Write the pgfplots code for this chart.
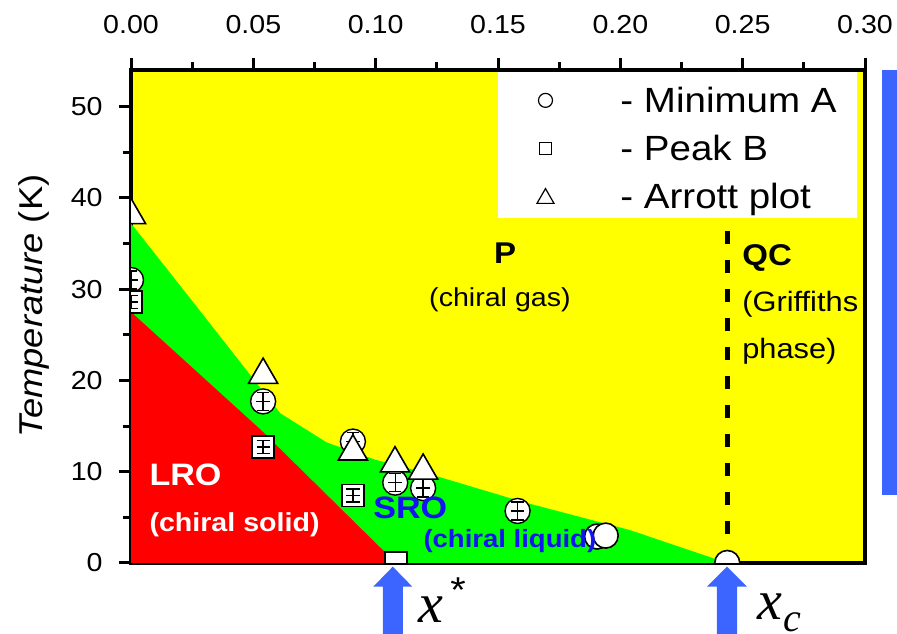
\documentclass[border=0pt]{standalone}
\usepackage{pgfplots}
\pgfplotsset{compat=1.18}
\usepackage{fontspec}
\setmainfont[FakeStretch=1.1]{Liberation Sans}
\newfontfamily\serifit[FakeStretch=1.0]{Liberation Serif Italic}
\definecolor{pyellow}{RGB}{255,255,0}
\definecolor{pgreen}{RGB}{0,255,0}
\definecolor{pred}{RGB}{255,0,0}
\definecolor{arrowblue}{RGB}{60,100,255}
\definecolor{txtblue}{RGB}{20,20,240}

% markers with error bars drawn inside
\pgfdeclareplotmark{circbar}{%
  \pgfpathcircle{\pgfpointorigin}{\pgfplotmarksize}%
  \pgfusepathqfillstroke
  \pgfpathmoveto{\pgfpoint{-0.5\pgfplotmarksize}{0.72\pgfplotmarksize}}%
  \pgfpathlineto{\pgfpoint{0.5\pgfplotmarksize}{0.72\pgfplotmarksize}}%
  \pgfpathmoveto{\pgfpoint{-0.5\pgfplotmarksize}{-0.72\pgfplotmarksize}}%
  \pgfpathlineto{\pgfpoint{0.5\pgfplotmarksize}{-0.72\pgfplotmarksize}}%
  \pgfpathmoveto{\pgfpoint{0pt}{0.72\pgfplotmarksize}}%
  \pgfpathlineto{\pgfpoint{0pt}{-0.72\pgfplotmarksize}}%
  \pgfpathmoveto{\pgfpoint{-0.55\pgfplotmarksize}{0pt}}%
  \pgfpathlineto{\pgfpoint{0.55\pgfplotmarksize}{0pt}}%
  \pgfusepathqstroke
}
\pgfdeclareplotmark{sqbar}{%
  \pgfpathrectangle{\pgfpoint{-\pgfplotmarksize}{-\pgfplotmarksize}}{\pgfpoint{2\pgfplotmarksize}{2\pgfplotmarksize}}%
  \pgfusepathqfillstroke
  \pgfpathmoveto{\pgfpoint{-0.6\pgfplotmarksize}{0.6\pgfplotmarksize}}%
  \pgfpathlineto{\pgfpoint{0.6\pgfplotmarksize}{0.6\pgfplotmarksize}}%
  \pgfpathmoveto{\pgfpoint{-0.6\pgfplotmarksize}{-0.6\pgfplotmarksize}}%
  \pgfpathlineto{\pgfpoint{0.6\pgfplotmarksize}{-0.6\pgfplotmarksize}}%
  \pgfpathmoveto{\pgfpoint{0pt}{0.6\pgfplotmarksize}}%
  \pgfpathlineto{\pgfpoint{0pt}{-0.6\pgfplotmarksize}}%
  \pgfpathmoveto{\pgfpoint{-0.6\pgfplotmarksize}{0pt}}%
  \pgfpathlineto{\pgfpoint{0.6\pgfplotmarksize}{0pt}}%
  \pgfusepathqstroke
}

\pgfplotstableread{
x y
0.0    31.0
0.054  17.7
0.0907 13.3
0.108  8.8
0.1194 8.2
0.158  5.7
}\minAbar
\pgfplotstableread{
x y
0.1905 2.9
0.194  3.0
0.2437 0.0
}\minA
\pgfplotstableread{
x y
0.0    28.6
0.054  12.7
0.0907 7.4
}\peakBbar
\pgfplotstableread{
x y
0.1083 0.0
}\peakB
\pgfplotstableread{
x y
0.0    38.1
0.054  20.6
0.0907 12.2
0.1079 10.9
0.1194 10.1
}\arrott

\begin{document}
\begin{tikzpicture}
\begin{axis}[
  name=ax,
  scale only axis, width=367pt, height=246.5pt,
  xmin=0, xmax=0.30, ymin=0, ymax=54,
  axis background/.style={fill=pyellow},
  axis line style={line width=1.8pt},
  tick align=outside,
  xtick pos=right, xticklabel pos=right,
  ytick pos=left,
  xtick={0,0.05,0.1,0.15,0.2,0.25,0.3},
  xticklabels={0.00,0.05,0.10,0.15,0.20,0.25,0.30},
  ytick={0,10,20,30,40,50},
  yticklabels={0,10,20,30,40,50},
  minor x tick num=1, minor y tick num=1,
  major tick length=6pt, minor tick length=4pt,
  every tick/.style={black, line width=1.5pt},
  xticklabel style={font=\fontsize{13}{13}\selectfont, yshift=8.5pt},
  yticklabel style={font=\fontsize{13}{13}\selectfont, inner xsep=2pt, xshift=-6pt},
  clip mode=individual, clip marker paths=true,
  legend style={at={(rel axis cs:0.989,0.996)}, anchor=north east, draw=none, fill=white,
    font=\fontsize{17.5}{20}\selectfont, inner xsep=10pt, inner ysep=0.5pt, row sep=0pt,
    nodes={inner xsep=0pt, inner ysep=3.5pt, text height=16pt, text depth=1pt}},
  legend cell align=left,
]
% regions
\addplot[fill=pgreen, draw=none, forget plot] coordinates {(0,0) (0,37.2) (0.03,27) (0.061,16.4) (0.08,13.2) (0.1,11.3) (0.12,9.9) (0.16,6.7) (0.204,3.6) (0.2437,0)} -- cycle;
\addplot[fill=pred, draw=none, forget plot] coordinates {(0,0) (0,27.5) (0.053,14.6) (0.1083,0)} -- cycle;
% dashed boundary
\addplot[black, line width=2.5pt, dash pattern=on 6.5pt off 8pt, forget plot] coordinates {(0.2437,0) (0.2437,54)};
% markers
\addplot[only marks, mark=*, mark size=6.25pt, mark options={fill=white, draw=black, line width=0.8pt}, forget plot] table[x=x, y=y] {\minA};
\addplot[only marks, mark=circbar, mark size=6.25pt, mark options={fill=white, draw=black, line width=0.7pt}, forget plot] table[x=x, y=y] {\minAbar};
\addplot[only marks, mark=square*, mark size=5.5pt, mark options={fill=white, draw=black, line width=0.8pt}, forget plot] table[x=x, y=y] {\peakB};
\addplot[only marks, mark=sqbar, mark size=5.5pt, mark options={fill=white, draw=black, line width=0.7pt}, forget plot] table[x=x, y=y] {\peakBbar};
\addplot[only marks, mark=triangle*, mark size=8.4pt, mark options={fill=white, draw=black, line width=0.8pt}, forget plot] table[x=x, y=y] {\arrott};
% legend
\addlegendimage{legend image code/.code={\path[draw=none, fill=none] (0pt,-10pt) rectangle (51pt,10pt); \draw[black, line width=0.6pt, fill=white] (13.5pt,-1.5pt) circle (3.5pt);}}
\addlegendentry{- Minimum A}
\addlegendimage{legend image code/.code={\path[draw=none, fill=none] (0pt,-10pt) rectangle (51pt,10pt); \draw[black, line width=0.6pt, fill=white] (10.5pt,-4.5pt) rectangle (16.5pt,1.5pt);}}
\addlegendentry{- Peak B}
\addlegendimage{legend image code/.code={\path[draw=none, fill=none] (0pt,-10pt) rectangle (51pt,10pt); \draw[black, line width=0.6pt, fill=white] (9.25pt,-5pt) -- (17.75pt,-5pt) -- (13.5pt,2.4pt) -- cycle;}}
\addlegendentry{- Arrott plot}
% labels
\node[anchor=base, font=\bfseries\fontsize{15}{15}\selectfont] at (axis cs:0.1529,32.8) {P};
\node[anchor=base, font=\fontsize{13}{13}\selectfont] at (axis cs:0.1508,28.1) {(chiral gas)};
\node[anchor=base west, inner sep=0pt, font=\bfseries\fontsize{15}{15}\selectfont] at (axis cs:0.2497,32.6) {QC};
\node[anchor=base west, inner sep=0pt, font=\fontsize{14}{14}\selectfont] at (axis cs:0.2497,27.5) {(Griffiths};
\node[anchor=base west, inner sep=0pt, font=\fontsize{14}{14}\selectfont] at (axis cs:0.2497,22.4) {phase)};
\node[anchor=base west, inner sep=0pt, text=white, font=\bfseries\fontsize{15.5}{15.5}\selectfont] at (axis cs:0.0074,8.5) {LRO};
\node[anchor=base west, inner sep=0pt, text=white, font=\bfseries\fontsize{13}{13}\selectfont] at (axis cs:0.0074,3.4) {(chiral solid)};
\node[anchor=base west, inner sep=0pt, text=txtblue, font=\bfseries\fontsize{15.5}{15.5}\selectfont] at (axis cs:0.0989,4.9) {SRO};
\node[anchor=base west, inner sep=0pt, text=txtblue, font=\bfseries\fontsize{12.5}{12.5}\selectfont] at (axis cs:0.1194,1.75) {(chiral liquid)};
\node[rotate=90, anchor=base, inner sep=0pt, font=\fontsize{16.5}{16.5}\selectfont] at (rel axis cs:-0.1199,0.521) {\textit{Temperature} (K)};
% arrows and blue bar
\fill[arrowblue] (axis cs:0.107,-0.4) -- (axis cs:0.115,-2.6) -- (axis cs:0.1111,-2.6) -- (axis cs:0.1111,-10) -- (axis cs:0.1029,-10) -- (axis cs:0.1029,-2.6) -- (axis cs:0.099,-2.6) -- cycle;
\fill[arrowblue] (axis cs:0.2436,-0.4) -- (axis cs:0.2518,-2.6) -- (axis cs:0.2477,-2.6) -- (axis cs:0.2477,-10) -- (axis cs:0.2395,-10) -- (axis cs:0.2395,-2.6) -- (axis cs:0.2354,-2.6) -- cycle;
\fill[arrowblue] (rel axis cs:1.0232,0.138) rectangle (rel axis cs:1.08,1.0);
\node[anchor=base west, inner sep=0pt, font=\serifit\fontsize{28}{28}\selectfont] at (axis cs:0.1173,-6.56) {x};
\node[inner sep=0pt, font=\fontsize{18}{18}\selectfont] at (axis cs:0.1337,-2.95) {*};
\node[anchor=base west, inner sep=0pt, font=\serifit\fontsize{28}{28}\selectfont] at (axis cs:0.2559,-6.24) {x};
\node[anchor=base west, inner sep=0pt, font=\serifit\fontsize{20}{20}\selectfont] at (axis cs:0.2667,-7.55) {c};
\end{axis}
\pgfresetboundingbox
\path ([shift={(-65.5pt,-35.5pt)}]ax.south west) rectangle ([shift={(16pt,35pt)}]ax.north east);
\end{tikzpicture}
\end{document}
